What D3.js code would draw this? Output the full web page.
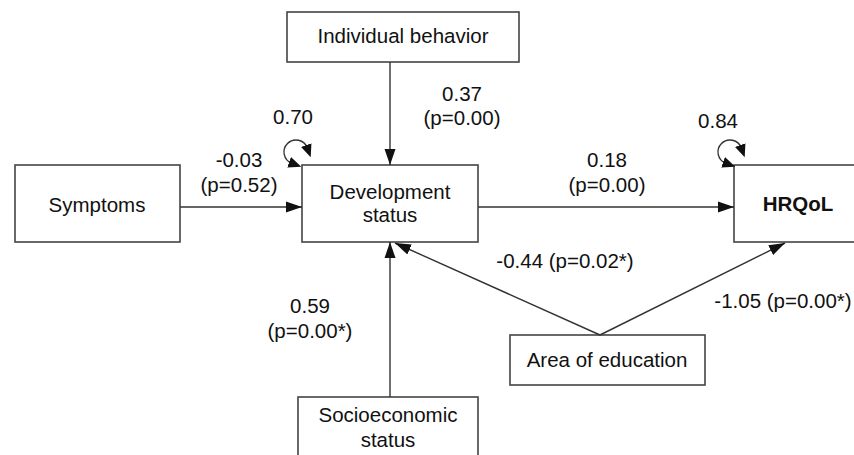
<!DOCTYPE html>
<html>
<head>
<meta charset="utf-8">
<script src="https://cdn.jsdelivr.net/npm/d3@7"></script>
<style>
  html, body { margin: 0; padding: 0; background: #fff; }
  svg { display: block; font-family: "Liberation Sans", Arial, sans-serif; }
  .box { fill: #fff; stroke: #444; stroke-width: 1.6; }
  .link { stroke: #333; stroke-width: 1.4; fill: none; }
  .lbl { fill: #111; font-size: 20.5px; text-anchor: middle; }
</style>
</head>
<body>
<script>
// path model: nodes, directed paths and residual variances
var nodeNames = ["Individual behavior", "Symptoms", "Development status", "HRQoL", "Area of education", "Socioeconomic status"];
var nodeLines = [["Individual behavior"], ["Symptoms"], ["Development", "status"], ["HRQoL"], ["Area of education"], ["Socioeconomic", "status"]];

var pathFrom = ["Individual behavior", "Symptoms", "Development status", "Socioeconomic status", "Area of education", "Area of education"];
var pathTo   = ["Development status", "Development status", "HRQoL", "Development status", "Development status", "HRQoL"];
var coefs    = ["0.37", "-0.03", "0.18", "0.59", "-0.44", "-1.05"];
var pvals    = ["0.00", "0.52", "0.00", "0.00*", "0.02*", "0.00*"];

var varianceNodes  = ["Development status", "HRQoL"];
var varianceValues = ["0.70", "0.84"];

window.onload = function(){

    var w = 854, h = 455;

    // box layout (x, y, width, height) in pixels, text centre and baselines
    var layout = {
        "Individual behavior":  {x: 287, y: 12,  w: 232, h: 50, tx: 403, base: [43]},
        "Symptoms":             {x: 15,  y: 165, w: 165, h: 77, tx: 97,  base: [212]},
        "Development status":   {x: 302, y: 165, w: 176, h: 77, tx: 390, base: [199, 222]},
        "HRQoL":                {x: 734, y: 165, w: 130, h: 77, tx: 798, base: [211], bold: true},
        "Area of education":    {x: 510, y: 335, w: 195, h: 50, tx: 607, base: [367]},
        "Socioeconomic status": {x: 298, y: 397, w: 180, h: 75, tx: 388, base: [422, 447]}
    };

    // where each path leaves / enters a box, and where its label sits
    var edgeGeom = [
        {src: [390, "bottom"],   dst: [390, "top"],    lx: 462, ly: [101, 125]},
        {src: ["right", 207],    dst: ["left", 207],   lx: 239, ly: [167, 192]},
        {src: ["right", 207],    dst: ["left", 207],   lx: 607, ly: [167, 192]},
        {src: [390, "top"],      dst: [390, "bottom"], lx: 310, ly: [313, 338]},
        {src: [600, "top"],      dst: [395, 243],      lx: 565, ly: [268]},
        {src: [600, "top"],      dst: [785, 243],      lx: 783, ly: [308]}
    ];
    var loopGeom = [
        {dx: -6, dy: -13, lx: 293, ly: 124},
        {dx: -4, dy: -13, lx: 718, ly: 128}
    ];

    function px(b, v){
        if (v === "left") return b.x;
        if (v === "right") return b.x + b.w;
        if (v === "mid") return b.x + b.w / 2;
        return v;
    }
    function py(b, v){
        if (v === "top") return b.y;
        if (v === "bottom") return b.y + b.h;
        return v;
    }

    var svg = d3.select("body")
        .append("svg")
        .attr("width", w)
        .attr("height", h);

    var defs = svg.append("defs");
    defs.append("marker")
        .attr("id", "head")
        .attr("markerUnits", "userSpaceOnUse")
        .attr("viewBox", "0 -6 16 12")
        .attr("markerWidth", 16)
        .attr("markerHeight", 12)
        .attr("refX", 16)
        .attr("refY", 0)
        .attr("orient", "auto")
        .append("path")
        .attr("d", "M0,-5.5L16,0L0,5.5Z")
        .attr("fill", "#111");

    defs.append("marker")
        .attr("id", "loophead")
        .attr("markerUnits", "userSpaceOnUse")
        .attr("viewBox", "0 -7 14 14")
        .attr("markerWidth", 14)
        .attr("markerHeight", 14)
        .attr("refX", 3)
        .attr("refY", 0)
        .attr("orient", "auto-start-reverse")
        .append("path")
        .attr("d", "M0,-5.5L13,0L0,5.5Z")
        .attr("fill", "#111");

    // boxes
    var nodes = svg.selectAll(".node")
        .data(nodeNames)
        .enter()
        .append("g")
        .attr("class", "node");

    nodes.append("rect")
        .attr("class", "box")
        .attr("x", function(d){ return layout[d].x; })
        .attr("y", function(d){ return layout[d].y; })
        .attr("width", function(d){ return layout[d].w; })
        .attr("height", function(d){ return layout[d].h; });

    nodes.each(function(d, i){
        var b = layout[d];
        d3.select(this).selectAll("text")
            .data(nodeLines[i])
            .enter()
            .append("text")
            .attr("class", "lbl")
            .attr("x", b.tx)
            .attr("y", function(t, j){ return b.base[j]; })
            .style("font-weight", b.bold ? "bold" : "normal")
            .text(function(t){ return t; });
    });

    // directed paths
    var edges = pathFrom.map(function(f, i){
        var s = layout[f], t = layout[pathTo[i]], g = edgeGeom[i];
        return {
            x1: px(s, g.src[0]), y1: py(s, g.src[1]),
            x2: px(t, g.dst[0]), y2: py(t, g.dst[1]),
            g: g, coef: coefs[i], p: pvals[i]
        };
    });

    svg.selectAll(".link")
        .data(edges)
        .enter()
        .append("line")
        .attr("class", "link")
        .attr("x1", function(d){ return d.x1; })
        .attr("y1", function(d){ return d.y1; })
        .attr("x2", function(d){ return d.x2; })
        .attr("y2", function(d){ return d.y2; })
        .attr("marker-end", "url(#head)");

    var edgeLabels = svg.selectAll(".elabel")
        .data(edges)
        .enter()
        .append("text")
        .attr("class", "lbl elabel");

    edgeLabels.each(function(d){
        var sel = d3.select(this);
        var parts = d.g.ly.length === 2
            ? [d.coef, "(p=" + d.p + ")"]
            : [d.coef + " (p=" + d.p + ")"];
        parts.forEach(function(t, j){
            sel.append("tspan")
                .attr("x", d.g.lx)
                .attr("y", d.g.ly[j])
                .text(t);
        });
    });

    // residual variance loops
    var r = 12;
    var a1 = 110 * Math.PI / 180, a2 = 340 * Math.PI / 180;
    var loops = svg.selectAll(".loop")
        .data(varianceNodes)
        .enter()
        .append("g")
        .attr("class", "loop");

    loops.append("path")
        .attr("class", "link")
        .attr("d", function(d, i){
            var b = layout[d], cx = b.x + loopGeom[i].dx, cy = b.y + loopGeom[i].dy;
            return "M" + (cx + r * Math.cos(a1)) + "," + (cy + r * Math.sin(a1)) +
                   "A" + r + "," + r + " 0 1 1 " + (cx + r * Math.cos(a2)) + "," + (cy + r * Math.sin(a2));
        })
        .attr("marker-start", "url(#loophead)")
        .attr("marker-end", "url(#loophead)");

    loops.append("text")
        .attr("class", "lbl")
        .attr("x", function(d, i){ return loopGeom[i].lx; })
        .attr("y", function(d, i){ return loopGeom[i].ly; })
        .text(function(d, i){ return varianceValues[i]; });
};
</script>
</body>
</html>
